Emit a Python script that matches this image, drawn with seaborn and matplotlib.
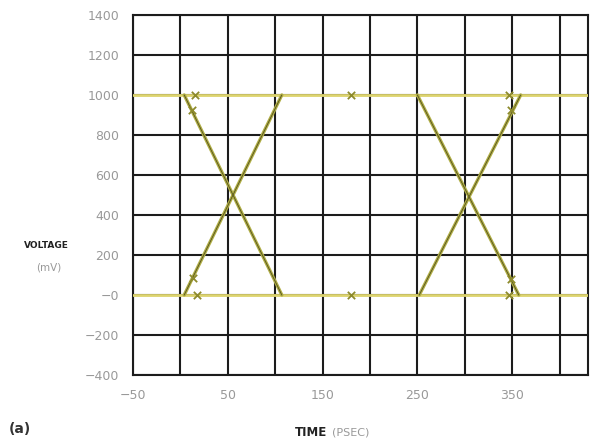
import matplotlib
matplotlib.use("Agg")
import matplotlib.pyplot as plt
import seaborn as sns
import pandas as pd

# Eye-diagram traces: time in ps, voltage in mV
rail_time = [-50, 430]
rail_high = [1000, 1000]
rail_low = [0, 0]

edge1_fall_t = [4, 107]
edge1_fall_v = [1000, 0]
edge1_rise_t = [4, 107]
edge1_rise_v = [0, 1000]
edge2_fall_t = [250, 357]
edge2_fall_v = [1000, 0]
edge2_rise_t = [252, 359]
edge2_rise_v = [0, 1000]

mark_t = [15, 12, 17, 13, 180, 180, 347, 349, 347, 349]
mark_v = [1000, 925, 0, 85, 1000, 0, 1000, 925, 0, 80]

x_ticks = [-50, 0, 50, 100, 150, 200, 250, 300, 350, 400]
x_labels = ["\u221250", "", "50", "", "150", "", "250", "", "350", ""]
y_ticks = [-400, -200, 0, 200, 400, 600, 800, 1000, 1200, 1400]
y_labels = ["\u2212400", "\u2212200", "\u22120", "200", "400", "600", "800",
            "1000", "1200", "1400"]

sns.set_style("white")
plt.rcParams["font.family"] = ["DejaVu Sans"]

fig = plt.figure(figsize=(5.92, 4.4), dpi=100)
ax = fig.add_axes([0.2247, 0.1477, 0.7685, 0.8183])

rail_color = "#ddd46e"
edge_color = "#b0ae45"
edge_core = "#55521f"

for v in (rail_high, rail_low):
    sns.lineplot(x=rail_time, y=v, ax=ax, color=rail_color, lw=2.0,
                 zorder=3, estimator=None, sort=False)

edges = [(edge1_fall_t, edge1_fall_v), (edge1_rise_t, edge1_rise_v),
         (edge2_fall_t, edge2_fall_v), (edge2_rise_t, edge2_rise_v)]
for t, v in edges:
    sns.lineplot(x=t, y=v, ax=ax, color=edge_color, lw=2.4, zorder=4,
                 estimator=None, sort=False)
    sns.lineplot(x=t, y=v, ax=ax, color=edge_core, lw=0.6, zorder=5,
                 estimator=None, sort=False)

marks = pd.DataFrame({"t": mark_t, "v": mark_v})
sns.scatterplot(data=marks, x="t", y="v", ax=ax, marker="x", s=28,
                color="#8d8a2c", linewidth=1.3, zorder=6)

ax.set_xlim(-50, 430)
ax.set_ylim(-400, 1400)
ax.set_xticks(x_ticks)
ax.set_xticklabels(x_labels)
ax.set_yticks(y_ticks)
ax.set_yticklabels(y_labels)
ax.tick_params(length=0, labelsize=9, labelcolor="#999999", pad=10)
ax.grid(True, color="#1c1c1c", lw=1.5, zorder=1)
ax.set_axisbelow(True)
for sp in ax.spines.values():
    sp.set_visible(True)
    sp.set_color("#1c1c1c")
    sp.set_linewidth(1.5)
ax.set_xlabel("")
ax.set_ylabel("")

fig.text(0.079, 0.443, "VOLTAGE", ha="center", va="center", fontsize=6.5,
         fontweight="bold", color="#222222")
fig.text(0.083, 0.392, "(mV)", ha="center", va="center", fontsize=7.5,
         color="#999999")
fig.text(0.498, 0.018, "TIME", ha="left", va="center", fontsize=8.5,
         fontweight="bold", color="#222222")
fig.text(0.560, 0.018, "(PSEC)", ha="left", va="center", fontsize=8,
         color="#999999")
fig.text(0.015, 0.025, "(a)", ha="left", va="center", fontsize=10,
         fontweight="bold", color="#333333")

fig.savefig("out.png", dpi=100)
